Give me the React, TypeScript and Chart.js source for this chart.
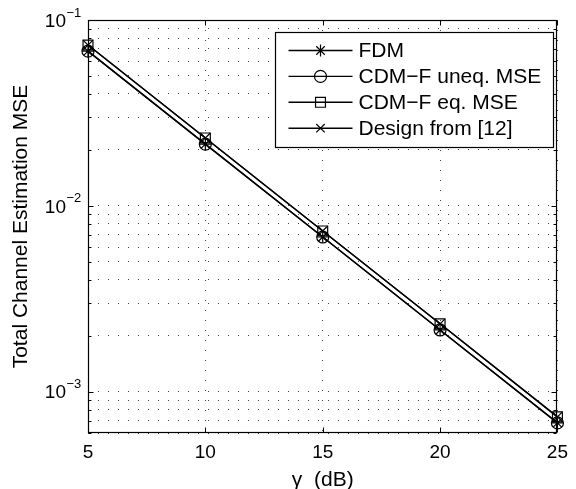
import React, { useEffect, useRef } from 'react';
import { Chart, registerables } from 'chart.js';

Chart.register(...registerables);

const FONT = "'Liberation Sans', Arial, Helvetica, sans-serif";

// ---- data ----
const snrDb = [5, 10, 15, 20, 25];
const fdm = [0.068, 0.0215, 0.0068, 0.00215, 0.00068];
const cdmfUneq = [0.068, 0.0215, 0.0068, 0.00215, 0.00068];
const cdmfEq = [0.0733, 0.0232, 0.00733, 0.00232, 0.000733];
const design12 = [0.0733, 0.0232, 0.00733, 0.00232, 0.000733];
const seriesNames = ['FDM', 'CDM\u2212F uneq. MSE', 'CDM\u2212F eq. MSE', 'Design from [12]'];
const seriesMarkers = ['star', 'circle', 'rect', 'crossRot'];

const xTicks = [5, 10, 15, 20, 25];
const xMin = 5;
const xMax = 25;
const yMin = 6e-4;
const yMax = 1e-1;
const yDecades = [1e-3, 1e-2, 1e-1];
const yExponents = ['\u22123', '\u22122', '\u22121'];
const yGridValues = [
  6e-4, 7e-4, 8e-4, 9e-4,
  1e-3, 2e-3, 3e-3, 4e-3, 5e-3, 6e-3, 7e-3, 8e-3, 9e-3,
  1e-2, 2e-2, 3e-2, 4e-2, 5e-2, 6e-2, 7e-2, 8e-2, 9e-2,
  1e-1,
];
const xTitle = '\u03b3  (dB)';
const yTitle = 'Total Channel Estimation MSE';

function drawMarker(ctx: CanvasRenderingContext2D, style: string, x: number, y: number, r: number) {
  ctx.beginPath();
  if (style === 'circle') {
    ctx.arc(x, y, r, 0, Math.PI * 2);
  } else if (style === 'rect') {
    const s = r * Math.SQRT1_2;
    ctx.rect(x - s, y - s, 2 * s, 2 * s);
  } else if (style === 'crossRot') {
    const s = r * Math.SQRT1_2;
    ctx.moveTo(x - s, y - s); ctx.lineTo(x + s, y + s);
    ctx.moveTo(x - s, y + s); ctx.lineTo(x + s, y - s);
  } else if (style === 'star') {
    const s = r * Math.SQRT1_2;
    ctx.moveTo(x - s, y - s); ctx.lineTo(x + s, y + s);
    ctx.moveTo(x - s, y + s); ctx.lineTo(x + s, y - s);
    ctx.moveTo(x, y - r); ctx.lineTo(x, y + r);
    ctx.moveTo(x - r, y); ctx.lineTo(x + r, y);
  }
  ctx.stroke();
}

const framePlugin = {
  id: 'matlabFrame',
  afterDraw(chart: any) {
    const ctx: CanvasRenderingContext2D = chart.ctx;
    const { left, right, top, bottom } = chart.chartArea;
    const xs = chart.scales.x;
    const ys = chart.scales.y;
    const L = Math.round(left) + 0.5;
    const R = Math.round(right) - 0.5;
    const T = Math.round(top) + 0.5;
    const B = Math.round(bottom) - 0.5;
    ctx.save();
    ctx.strokeStyle = '#000';
    ctx.lineWidth = 1.2;
    ctx.setLineDash([]);
    // box
    ctx.strokeRect(L, T, R - L, B - T);
    // inward ticks
    ctx.lineWidth = 1;
    ctx.beginPath();
    xTicks.forEach((v) => {
      const px = Math.round(xs.getPixelForValue(v)) + 0.5;
      ctx.moveTo(px, B); ctx.lineTo(px, B - 5);
      ctx.moveTo(px, T); ctx.lineTo(px, T + 5);
    });
    yGridValues.forEach((v) => {
      const py = Math.round(ys.getPixelForValue(v)) + 0.5;
      const major = yDecades.includes(v);
      const len = major ? 5 : 3;
      ctx.moveTo(L, py); ctx.lineTo(L + len, py);
      ctx.moveTo(R, py); ctx.lineTo(R - len, py);
    });
    ctx.stroke();

    // y tick labels with exponents
    ctx.fillStyle = '#000';
    yDecades.forEach((v, i) => {
      const py = ys.getPixelForValue(v);
      ctx.font = `19px ${FONT}`;
      ctx.textAlign = 'right';
      ctx.textBaseline = 'middle';
      ctx.fillText('10', left - 22, py + 1.5);
      ctx.font = `13px ${FONT}`;
      ctx.textAlign = 'left';
      ctx.fillText(yExponents[i], left - 21.5, py - 7);
    });

    // legend
    const bx = left + 187.5;
    const by = top + 12.5;
    const bw = 278;
    const bh = 115;
    ctx.fillStyle = '#fff';
    ctx.fillRect(bx, by, bw, bh);
    ctx.lineWidth = 1.2;
    ctx.strokeRect(bx, by, bw, bh);
    ctx.font = `21px ${FONT}`;
    ctx.textAlign = 'left';
    ctx.textBaseline = 'middle';
    seriesNames.forEach((name, i) => {
      const cy = by + 18 + i * 25.9;
      ctx.strokeStyle = '#000';
      ctx.lineWidth = 1.4;
      ctx.beginPath();
      ctx.moveTo(bx + 13, cy); ctx.lineTo(bx + 77, cy);
      ctx.stroke();
      ctx.lineWidth = 1.2;
      drawMarker(ctx, seriesMarkers[i], bx + 45, cy, i === 2 ? 7 : 6);
      ctx.fillStyle = '#000';
      ctx.fillText(name, bx + 83, cy + 1);
    });
    ctx.restore();
  },
};

export default function App() {
  const ref = useRef<HTMLCanvasElement>(null);
  useEffect(() => {
    document.body.style.margin = '0';
    const canvas = ref.current;
    if (!canvas) return;
    const mk = (label: string, ys: number[], style: string, r: number) => ({
      label,
      data: snrDb.map((x, i) => ({ x, y: ys[i] })),
      borderColor: '#000',
      borderWidth: 1.4,
      backgroundColor: 'rgba(0,0,0,0)',
      pointStyle: style,
      pointRadius: r,
      pointBorderColor: '#000',
      pointBackgroundColor: 'rgba(0,0,0,0)',
      pointBorderWidth: 1.2,
      tension: 0,
      clip: false,
    });
    const chart = new Chart(canvas, {
      type: 'line',
      data: {
        datasets: [
          mk(seriesNames[0], fdm, seriesMarkers[0], 6),
          mk(seriesNames[1], cdmfUneq, seriesMarkers[1], 6),
          mk(seriesNames[2], cdmfEq, seriesMarkers[2], 7),
          mk(seriesNames[3], design12, seriesMarkers[3], 7),
        ] as any,
      },
      options: {
        animation: false,
        responsive: false,
        devicePixelRatio: 1,
        layout: { padding: { left: 0, top: 20, right: 13, bottom: 0 } },
        plugins: { legend: { display: false }, tooltip: { enabled: false } },
        scales: {
          x: {
            type: 'linear',
            min: xMin,
            max: xMax,
            afterBuildTicks: (s: any) => { s.ticks = xTicks.map((v) => ({ value: v })); },
            afterFit: (s: any) => { s.height = 56; },
            ticks: {
              color: '#000',
              font: { family: FONT, size: 19 },
              padding: 8,
              maxRotation: 0,
              callback: (v: any) => String(v),
            },
            grid: { color: '#444', lineWidth: 1, drawTicks: false },
            border: { display: false, dash: [1, 9] },
            title: {
              display: true,
              text: xTitle,
              color: '#000',
              font: { family: FONT, size: 21, lineHeight: 1 },
              padding: { top: 0, bottom: -2 },
            },
          },
          y: {
            type: 'logarithmic',
            min: yMin,
            max: yMax,
            afterBuildTicks: (s: any) => { s.ticks = yGridValues.map((v) => ({ value: v })); },
            afterFit: (s: any) => { s.width = 88; },
            ticks: { display: false },
            grid: { color: '#444', lineWidth: 1, drawTicks: false },
            border: { display: false, dash: [1, 9] },
            title: {
              display: true,
              text: yTitle,
              color: '#000',
              font: { family: FONT, size: 21, lineHeight: 1 },
              padding: { top: 11, bottom: 0 },
            },
          },
        },
      } as any,
      plugins: [framePlugin],
    });
    return () => chart.destroy();
  }, []);
  return (
    <div style={{ width: 576, height: 489 }}>
      <canvas ref={ref} width={576} height={489} style={{ display: 'block', width: 576, height: 489 }} />
    </div>
  );
}
